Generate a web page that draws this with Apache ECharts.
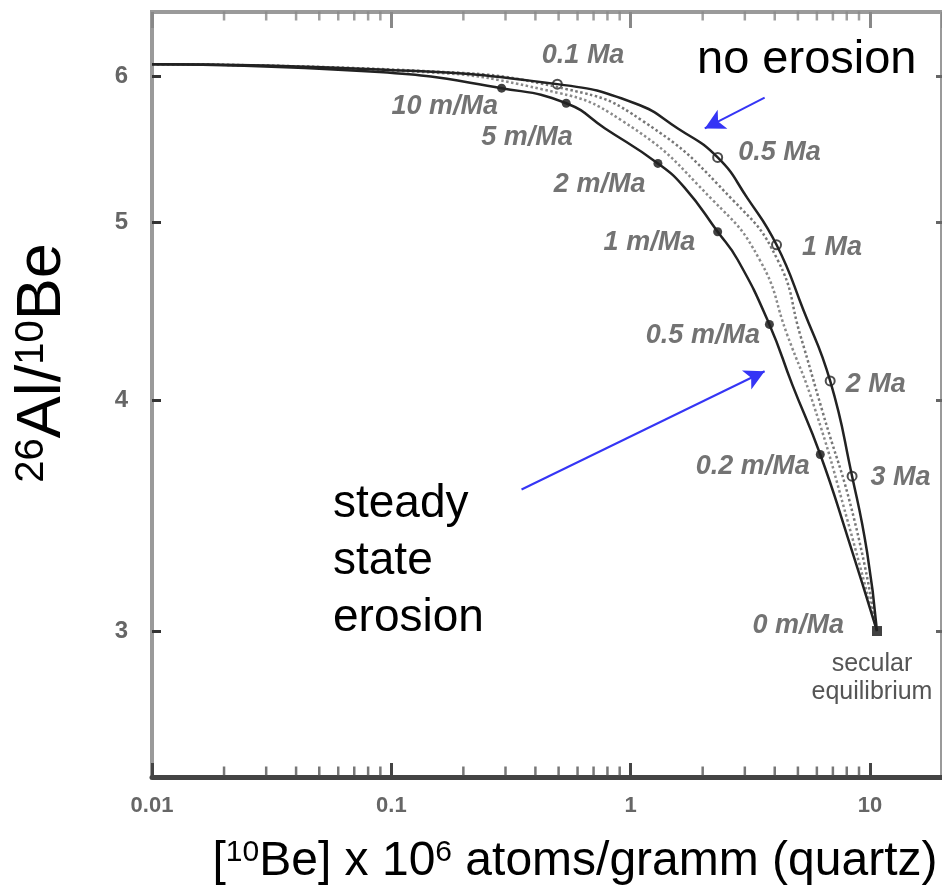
<!DOCTYPE html>
<html><head><meta charset="utf-8">
<script src="https://cdn.jsdelivr.net/npm/echarts@6/dist/echarts.min.js"></script>
<style>html,body{margin:0;padding:0;background:#fff}#c{width:942px;height:888px}</style>
</head><body><div id="c"></div><script>
// ---- data ----
const noErosionX = [0.01, 0.0889, 0.494, 1.04, 1.575, 2.31, 3.08, 4.07, 5.27, 6.82, 8.42, 9.73, 10.7];
const noErosionY = [6.09, 6.05, 5.94, 5.80, 5.62, 5.42, 5.15, 4.86, 4.48, 4.10, 3.64, 3.31, 3.0];
const steadyX = [0.01, 0.089, 0.289, 0.538, 0.782, 1.30, 1.68, 2.31, 2.80, 3.80, 4.74, 6.20, 8.03, 10.7];
const steadyY = [6.09, 6.03, 5.91, 5.80, 5.62, 5.38, 5.22, 4.94, 4.77, 4.40, 4.08, 3.74, 3.38, 3.0];
const dottedAX = [0.01, 0.1076, 0.432, 0.930, 2.20, 3.46, 4.52, 5.85, 8.03, 10.7];
const dottedAY = [6.09, 6.04, 5.90, 5.67, 5.14, 4.77, 4.34, 3.97, 3.45, 3.0];
const dottedBX = [0.01, 0.130, 0.549, 1.13, 2.67, 4.11, 5.12, 6.32, 8.59, 10.7];
const dottedBY = [6.09, 6.04, 5.90, 5.67, 5.14, 4.77, 4.34, 3.95, 3.45, 3.0];
const ageLabels = ['0.1 Ma', '0.5 Ma', '1 Ma', '2 Ma', '3 Ma'];
const ageX = [0.494, 2.31, 4.07, 6.82, 8.42];
const ageY = [5.94, 5.42, 4.86, 4.10, 3.64];
const erosionLabels = ['10 m/Ma', '5 m/Ma', '2 m/Ma', '1 m/Ma', '0.5 m/Ma', '0.2 m/Ma', '0 m/Ma'];
const erosionX = [0.289, 0.538, 1.30, 2.31, 3.80, 6.20, 10.7];
const erosionY = [5.91, 5.80, 5.38, 4.94, 4.40, 3.74, 3.0];
const xTickValues = [0.01, 0.1, 1, 10];
const xMinorTickValues = [0.02,0.03,0.04,0.05,0.06,0.07,0.08,0.09,0.2,0.3,0.4,0.5,0.6,0.7,0.8,0.9,2,3,4,5,6,7,8,9];
const yTickValues = [3, 4, 5, 6];
const xRange = [0.01, 20];
const yRange = [2.5, 6.5];
const arrowNoErosion = [[3.63, 5.84], [2.04, 5.62]];
const arrowSteady = [[0.350, 3.58], [3.63, 4.15]];
const secularPoint = [10.7, 3.0];
const secularLabel = 'secular\nequilibrium';

// ---- layout / style (not data) ----
const ageLabelLayout = [[-21, -29], [15, -5], [20, 3], [10, 4], [13, 1]];
const erosionLabelLayout = [[1, 18], [11, 34], [-8, 21], [-18, 11], [-5, 11], [-6, 12], [-28, -5]];
const markerFont = {fontFamily: 'Liberation Sans', fontStyle: 'italic', fontWeight: 'bold', fontSize: 27, color: '#505050'};
const zip = (xs, ys) => xs.map((x, i) => [x, ys[i]]);
const SMOOTH = 0.5;

const chart = echarts.init(document.getElementById('c'), null, {renderer: 'canvas'});
const option = {
  animation: false,
  backgroundColor: '#fff',
  grid: {left: 152, right: -3, top: 12, bottom: 111, show: true, borderColor: '#9a9a9a', borderWidth: 4},
  xAxis: [{
    type: 'log', logBase: 10, min: xRange[0], max: xRange[1], position: 'bottom',
    axisLine: {show: true, lineStyle: {color: '#444', width: 5}},
    axisTick: {show: true, inside: true, length: 14, lineStyle: {color: '#444', width: 3}},
    axisLabel: {show: true, margin: 18, fontFamily: 'Liberation Sans', fontWeight: 'bold', fontSize: 22, color: '#666', showMaxLabel: false,
      formatter: v => (xTickValues.some(t => Math.abs(t - v) / t < 1e-6) ? String(v) : '')},
    splitLine: {show: false}
  }, {
    type: 'log', logBase: 10, min: xRange[0], max: xRange[1], position: 'top',
    axisLine: {show: false},
    axisTick: {show: true, inside: true, length: 16, lineStyle: {color: '#888', width: 3}},
    axisLabel: {show: false}, splitLine: {show: false}
  }],
  yAxis: [{
    type: 'log', logBase: 10, min: yRange[0], max: yRange[1], position: 'left',
    axisLine: {show: true, lineStyle: {color: '#9a9a9a', width: 4}},
    axisTick: {show: true, inside: true, length: 9, customValues: yTickValues, lineStyle: {color: '#333', width: 3}},
    axisLabel: {show: true, margin: 24, customValues: yTickValues, fontFamily: 'Liberation Sans', fontWeight: 'bold', fontSize: 24, color: '#666'},
    splitLine: {show: false}
  }, {
    type: 'log', logBase: 10, min: yRange[0], max: yRange[1], position: 'right',
    axisLine: {show: false},
    axisTick: {show: true, inside: true, length: 6, customValues: yTickValues, lineStyle: {color: '#666', width: 3}},
    axisLabel: {show: false}, splitLine: {show: false}
  }],
  series: [
    {type: 'line', data: zip(dottedAX, dottedAY), smooth: SMOOTH, symbol: 'none', lineStyle: {color: '#8a8a8a', width: 2.5, type: 'dotted'}, silent: true},
    {type: 'line', data: zip(dottedBX, dottedBY), smooth: SMOOTH, symbol: 'none', lineStyle: {color: '#777', width: 2.5, type: 'dotted'}, silent: true},
    {type: 'line', data: zip(noErosionX, noErosionY), smooth: SMOOTH, symbol: 'none', lineStyle: {color: '#222', width: 2.5}, silent: true,
      markLine: {silent: true, symbol: ['none', 'arrow'], symbolSize: [16, 20], label: {show: false},
        lineStyle: {color: '#3535f5', width: 2, type: 'solid'},
        data: [[{coord: arrowNoErosion[0]}, {coord: arrowNoErosion[1]}], [{coord: arrowSteady[0]}, {coord: arrowSteady[1]}]]}},
    {type: 'line', data: zip(steadyX, steadyY), smooth: SMOOTH, symbol: 'none', lineStyle: {color: '#222', width: 2.5}, silent: true},
    {type: 'scatter', silent: true, clip: false,
      data: ageX.map((x, i) => ({value: [x, ageY[i]], name: ageLabels[i],
        label: {show: true, position: 'right', distance: 0, offset: ageLabelLayout[i], formatter: '{b}', ...markerFont}})),
      symbol: 'circle', symbolSize: 9, itemStyle: {color: '#fff', borderColor: '#222', borderWidth: 2}},
    {type: 'scatter', silent: true, clip: false,
      data: erosionX.map((x, i) => ({value: [x, erosionY[i]], name: erosionLabels[i],
        symbol: i === erosionX.length - 1 ? 'rect' : 'circle', symbolSize: i === erosionX.length - 1 ? 10 : 9,
        label: {show: true, position: 'left', distance: 0, offset: erosionLabelLayout[i], formatter: '{b}', ...markerFont}})),
      itemStyle: {color: '#111'}},
    {type: 'scatter', silent: true, clip: false, data: [{value: secularPoint, name: secularLabel}],
      symbol: 'circle', symbolSize: 1, itemStyle: {opacity: 0},
      label: {show: true, position: 'inside', offset: [-5, 47], formatter: '{b}', align: 'center',
        fontFamily: 'Liberation Sans', fontSize: 25, lineHeight: 28, color: '#555', opacity: 1}},
    {type: 'scatter', silent: true, clip: false, data: xMinorTickValues.map(v => [v, yRange[1]]),
      symbol: 'rect', symbolSize: [2.5, 9], symbolOffset: [0, 4], itemStyle: {color: '#888'}},
    {type: 'scatter', silent: true, clip: false, data: xMinorTickValues.map(v => [v, yRange[0]]),
      symbol: 'rect', symbolSize: [2.5, 9], symbolOffset: [0, -6], itemStyle: {color: '#555'}}
  ],
  graphic: [
    {type: 'text', left: 697, top: 37, silent: true,
      style: {text: 'no erosion', font: '47px "Liberation Sans"', fill: '#000'}},
    {type: 'text', left: 333, top: 476, silent: true,
      style: {text: 'steady\nstate\nerosion', font: '46px "Liberation Sans"', lineHeight: 57, fill: '#000'}},
    {type: 'text', x: 575, y: 862, silent: true,
      style: {text: '[{s|10}Be] x 10{s|6} atoms/gramm (quartz)', font: '48px "Liberation Sans"', fill: '#000', align: 'center', verticalAlign: 'middle',
        rich: {s: {fontSize: 30, fontFamily: 'Liberation Sans', verticalAlign: 'top', lineHeight: 30, fill: '#000'}}}},
    {type: 'text', x: 43, y: 363, rotation: Math.PI / 2, silent: true,
      style: {text: '{s|26}Al/{s|10}Be', font: '63px "Liberation Sans"', fill: '#000', align: 'center', verticalAlign: 'middle',
        rich: {s: {fontSize: 40, fontFamily: 'Liberation Sans', verticalAlign: 'top', lineHeight: 40, fill: '#000'}}}}
  ]
};
chart.setOption(option);
</script></body></html>
